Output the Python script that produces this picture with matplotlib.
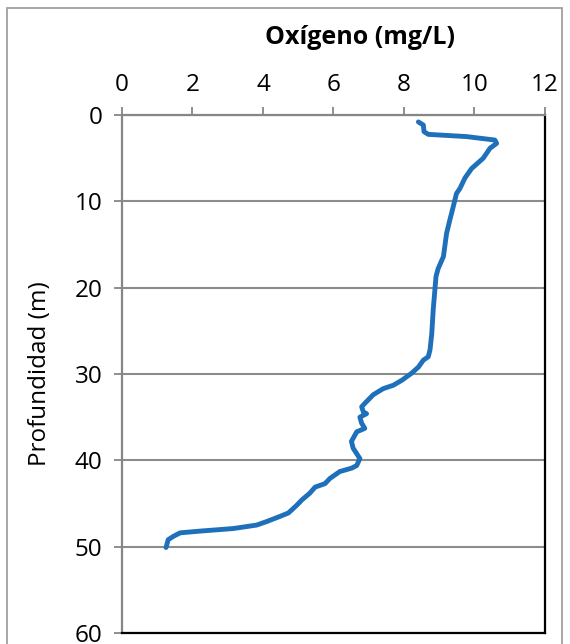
import matplotlib.pyplot as plt
from matplotlib.patches import Rectangle

# perfil de oxígeno disuelto (mg/L) vs profundidad (m)
oxigeno = [8.41, 8.55, 8.57, 8.69, 9.78, 10.58, 10.63, 10.44, 10.25, 9.92, 9.73, 9.59,
           9.49, 9.40, 9.30, 9.21, 9.12, 8.97, 8.91, 8.83, 8.79, 8.74, 8.69, 8.55,
           8.41, 8.22, 7.95, 7.70, 7.41, 7.13, 6.89, 6.80, 6.85, 6.94, 6.75, 6.80,
           6.89, 6.66, 6.51, 6.56, 6.75, 6.66, 6.52, 6.18, 5.90, 5.76, 5.48, 5.33,
           5.10, 4.96, 4.72, 4.48, 4.10, 3.82, 3.16, 2.21, 1.65, 1.46, 1.31, 1.25]
profundidad = [0.8, 1.16, 1.93, 2.24, 2.5, 2.9, 3.28, 3.86, 5.0, 6.2, 7.3, 8.5,
               9.1, 10.6, 12.2, 13.7, 16.4, 17.8, 18.7, 22.6, 25.3, 27.2, 28.0, 28.4,
               29.2, 29.9, 30.7, 31.3, 31.7, 32.4, 33.4, 33.8, 34.4, 34.6, 35.0, 35.7,
               36.3, 36.7, 37.8, 38.6, 39.8, 40.6, 40.9, 41.3, 42.1, 42.7, 43.1, 43.8,
               44.6, 45.2, 46.1, 46.5, 47.1, 47.5, 47.9, 48.2, 48.4, 48.8, 49.2, 50.1]

x_ticks = [0, 2, 4, 6, 8, 10, 12]
y_ticks = [0, 10, 20, 30, 40, 50, 60]

plt.rcParams['font.family'] = ['Open Sans', 'DejaVu Sans']

fig = plt.figure(figsize=(5.7, 6.44), dpi=100)
ax = fig.add_axes([0.214, 0.0171, 0.742, 0.8043])

ax.plot(oxigeno, profundidad, color='#1F70BA', linewidth=3.5, solid_capstyle='round',
        solid_joinstyle='round')

ax.set_xlim(0, 12)
ax.set_ylim(60, 0)
ax.set_xticks(x_ticks)
ax.set_yticks(y_ticks)
ax.xaxis.tick_top()
ax.tick_params(axis='both', labelsize=17.5, direction='out', length=6, width=1.3,
               color='#868686', pad=8)
ax.tick_params(axis='x', pad=7)
ax.grid(axis='y', color='#8c8c8c', linewidth=1.5)
ax.set_axisbelow(True)

ax.spines['left'].set_color('#868686')
ax.spines['top'].set_color('#868686')
ax.spines['right'].set_color('#000000')
ax.spines['bottom'].set_color('#000000')
for s in ax.spines.values():
    s.set_linewidth(1.6)

ax.set_ylabel('Profundidad (m)', fontsize=17.5, labelpad=16)
fig.text(360 / 570, 1 - 37 / 644, 'Oxígeno (mg/L)', fontsize=18, fontweight='bold',
         ha='center', va='center')

# marco del gráfico
fig.patches.append(Rectangle((7 / 570, -0.1), 555 / 570, 1.1 - 8 / 644, transform=fig.transFigure,
                             fill=False, edgecolor='#a0a0a0', linewidth=1.3))

fig.savefig('out.png', dpi=100)
